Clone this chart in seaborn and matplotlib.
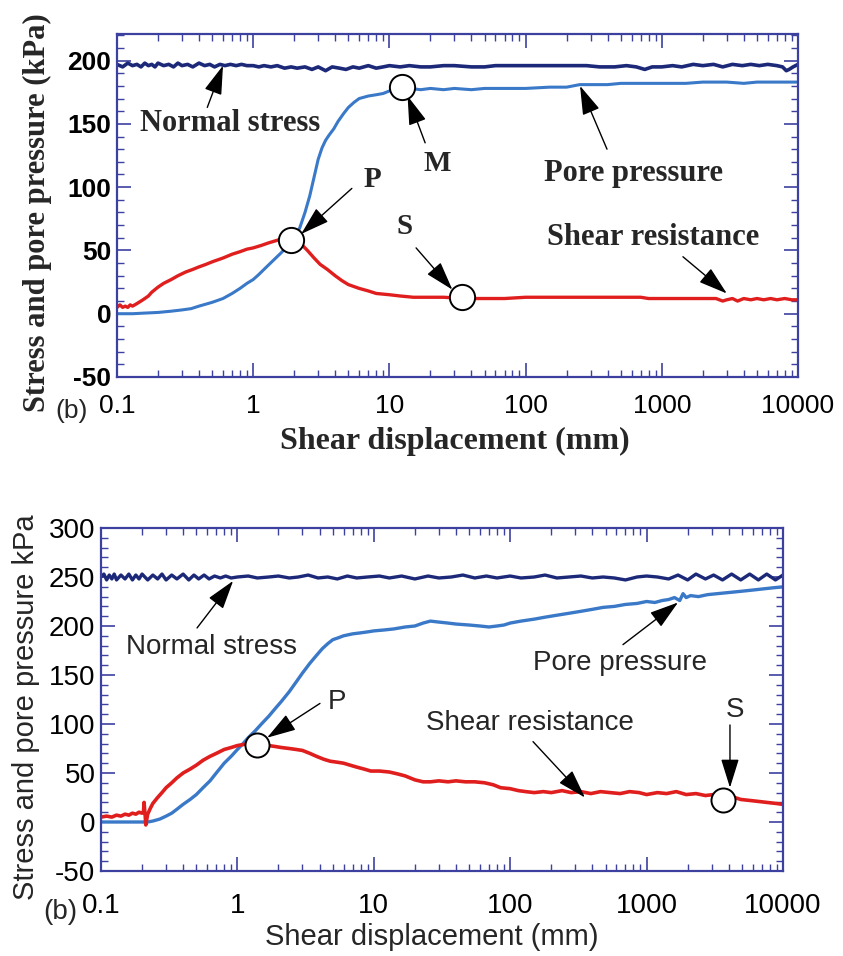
import numpy as np
import pandas as pd
import matplotlib
matplotlib.use("Agg")
import matplotlib.pyplot as plt
import seaborn as sns
from matplotlib.ticker import MultipleLocator, LogLocator, NullFormatter, FixedLocator, FixedFormatter

sns.set_theme(style="ticks")
plt.rcParams['font.family'] = ['Liberation Sans', 'DejaVu Sans']
plt.rcParams['axes.unicode_minus'] = False

# ---------------- data: top panel ----------------
x_ticks = [0.1, 1, 10, 100, 1000, 10000]
x_tick_labels = ["0.1", "1", "10", "100", "1000", "10000"]

ns_top_x = [0.10, 0.11, 0.12, 0.13, 0.14, 0.15, 0.16, 0.17, 0.18, 0.19,
            0.20, 0.22, 0.24, 0.26, 0.28, 0.30, 0.33, 0.36, 0.40, 0.44,
            0.48, 0.52, 0.57, 0.62, 0.68, 0.75, 0.82, 0.90, 1.0, 1.1,
            1.2, 1.35, 1.5, 1.7, 1.9, 2.1, 2.4, 2.7, 3.0, 3.4,
            3.8, 4.3, 4.8, 5.4, 6.0, 7.0, 8.0, 9.0, 10, 12,
            14, 17, 20, 25, 30, 40, 50, 60, 80, 100,
            130, 170, 220, 280, 350, 450, 550, 650, 750, 850,
            1000, 1200, 1400, 1700, 2000, 2400, 2800, 3300, 3900, 4500,
            5200, 6000, 7000, 7700, 8200, 8600, 9200, 10000]
ns_top_y = [197, 195, 198, 196, 197, 195, 198, 196, 197, 195,
            198, 196, 197, 195, 198, 196, 197, 195, 198, 196,
            197, 195, 197, 196, 197, 196, 197, 196, 196, 195,
            196, 195, 196, 194, 195, 194, 195, 193, 195, 192,
            195, 194, 193, 195, 194, 196, 194, 195, 196, 195,
            196, 195, 195, 196, 196, 195, 195, 196, 196, 196,
            196, 196, 196, 196, 195, 195, 196, 195, 193, 195,
            195, 196, 195, 197, 196, 197, 195, 197, 196, 197,
            196, 197, 196, 195, 192, 193, 195, 197]

pp_top_x = [0.10, 0.13, 0.16, 0.20, 0.25, 0.30, 0.35, 0.40, 0.50, 0.60,
            0.70, 0.80, 0.90, 1.0, 1.1, 1.2, 1.4, 1.6, 1.8, 2.0,
            2.2, 2.4, 2.6, 2.8, 3.0, 3.2, 3.4, 3.6, 3.9, 4.2,
            4.6, 5.0, 5.5, 6.0, 7.0, 8.0, 9.0, 10, 11, 12,
            14, 17, 20, 25, 30, 40, 50, 70, 100, 150,
            200, 250, 300, 400, 500, 700, 1000, 1500, 2000, 3000,
            4000, 5000, 7000, 10000]
pp_top_y = [0, 0, 0.5, 1, 2, 3, 4, 6, 9, 12,
            16, 20, 24, 27, 31, 35, 42, 48, 54, 59,
            68, 80, 93, 108, 122, 131, 137, 141, 146, 152,
            158, 163, 167, 170, 172, 173, 174, 176, 177, 178,
            178, 177, 178, 177, 178, 177, 178, 178, 178, 179,
            179, 181, 181, 181, 182, 182, 182, 182, 183, 183,
            182, 183, 183, 183]

sr_top_x = [0.10, 0.105, 0.11, 0.115, 0.12, 0.125, 0.13, 0.14, 0.15, 0.16,
            0.17, 0.18, 0.20, 0.22, 0.25, 0.28, 0.32, 0.36, 0.40, 0.45,
            0.50, 0.60, 0.70, 0.80, 0.90, 1.0, 1.15, 1.3, 1.5, 1.7,
            1.9, 2.1, 2.3, 2.5, 2.8, 3.1, 3.5, 4.0, 4.5, 5.0,
            6.0, 7.0, 8.0, 10, 12, 15, 20, 25, 35, 50,
            70, 100, 150, 200, 300, 500, 700, 800, 900, 1200,
            1600, 2000, 2500, 2800, 3000, 3300, 3600, 4000, 4500, 5000,
            5600, 6300, 7000, 8000, 9000, 10000]
sr_top_y = [5, 7, 5, 6, 5, 7, 6, 8, 10, 12,
            14, 17, 21, 24, 27, 30, 33, 35, 37, 39,
            41, 44, 47, 49, 51, 52, 54, 56, 58, 60,
            59, 57, 54, 50, 44, 39, 35, 30, 26, 23,
            20, 18, 16, 15, 14, 13, 13, 13, 12, 12,
            12, 13, 13, 13, 13, 13, 13, 12, 12, 12,
            12, 12, 12, 10, 11, 12, 10, 12, 11, 12,
            11, 12, 11, 12, 11, 11]

mk_top_x = [1.9, 12.4, 34.0]
mk_top_y = [58, 179, 13]

# ---------------- data: bottom panel ----------------
ns_bot_x = [0.10, 0.105, 0.11, 0.115, 0.12, 0.125, 0.13, 0.14, 0.15, 0.16,
            0.17, 0.18, 0.19, 0.20, 0.22, 0.24, 0.26, 0.28, 0.30, 0.33,
            0.36, 0.40, 0.44, 0.48, 0.52, 0.57, 0.62, 0.68, 0.75, 0.82,
            0.90, 1.0, 1.2, 1.4, 1.7, 2.0, 2.4, 2.8, 3.3, 3.9,
            4.6, 5.4, 6.4, 7.5, 9, 11, 13, 16, 20, 25,
            30, 37, 45, 55, 67, 80, 100, 120, 150, 180,
            220, 270, 330, 400, 480, 580, 700, 850, 1000, 1200,
            1450, 1700, 2000, 2300, 2700, 3100, 3600, 4200, 4900, 5700,
            6600, 7600, 8800, 10000]
ns_bot_y = [250, 253, 247, 252, 248, 253, 247, 252, 248, 253,
            247, 252, 248, 253, 247, 252, 248, 253, 247, 252,
            248, 253, 247, 252, 248, 252, 248, 251, 249, 251,
            249, 250, 251, 249, 250, 251, 249, 250, 252, 249,
            250, 248, 251, 249, 250, 251, 249, 251, 248, 251,
            249, 250, 252, 249, 251, 249, 251, 249, 250, 252,
            249, 250, 251, 249, 250, 249, 247, 250, 251, 250,
            248, 252, 247, 253, 248, 252, 247, 253, 247, 253,
            247, 253, 247, 252]

pp_bot_x = [0.10, 0.12, 0.14, 0.16, 0.18, 0.20, 0.22, 0.24, 0.27, 0.30,
            0.33, 0.36, 0.40, 0.45, 0.50, 0.56, 0.63, 0.70, 0.80, 0.90,
            1.0, 1.1, 1.2, 1.35, 1.5, 1.7, 1.9, 2.1, 2.4, 2.7,
            3.0, 3.4, 3.8, 4.2, 4.6, 5.0, 5.5, 6.0, 7.0, 8.0,
            9.0, 10, 12, 14, 17, 20, 23, 26, 30, 35,
            40, 50, 60, 70, 80, 90, 100, 120, 150, 180,
            220, 270, 330, 400, 480, 580, 700, 850, 1000, 1150,
            1300, 1450, 1600, 1750, 1850, 1950, 2100, 2400, 2800, 3300,
            3900, 4600, 5400, 6300, 7300, 8500, 10000]
pp_bot_y = [0, 0, 0, 0, 0, 0, 0, 1, 3, 6,
            9, 13, 18, 23, 28, 35, 42, 50, 60, 67,
            74, 80, 86, 93, 100, 108, 116, 123, 133, 143,
            152, 162, 170, 177, 182, 186, 188, 190, 192, 193,
            194, 195, 196, 197, 199, 200, 203, 205, 204, 203,
            202, 201, 200, 199, 200, 201, 203, 205, 207, 209,
            211, 213, 215, 217, 219, 220, 222, 223, 225, 224,
            226, 227, 229, 226, 233, 229, 231, 230, 232, 233,
            234, 235, 236, 237, 238, 239, 240]

sr_bot_x = [0.10, 0.11, 0.12, 0.13, 0.14, 0.15, 0.16, 0.17, 0.18, 0.19,
            0.20, 0.205, 0.207, 0.209, 0.211, 0.213, 0.216, 0.22, 0.23, 0.24,
            0.26, 0.28, 0.30, 0.33, 0.36, 0.40, 0.45, 0.50, 0.56, 0.63,
            0.70, 0.80, 0.90, 1.0, 1.1, 1.2, 1.35, 1.5, 1.7, 1.9,
            2.1, 2.4, 2.7, 3.0, 3.4, 3.8, 4.3, 4.8, 5.4, 6.0,
            6.7, 7.5, 8.5, 9.5, 11, 13, 15, 17, 20, 23,
            26, 30, 35, 40, 47, 55, 65, 75, 85, 100,
            115, 130, 150, 175, 200, 240, 280, 330, 390, 460,
            540, 640, 750, 880, 1000, 1200, 1400, 1650, 1950, 2300,
            2700, 3100, 3600, 4200, 4900, 5700, 6600, 7600, 8800, 10000]
sr_bot_y = [5, 6, 5, 7, 6, 8, 7, 9, 8, 10,
            9, 11, 20, 12, 6, -3, 2, 8, 14, 19,
            25, 30, 35, 40, 45, 50, 54, 58, 63, 67,
            70, 74, 76, 78, 79, 80, 80, 79, 78, 77,
            76, 75, 74, 73, 70, 67, 64, 62, 61, 60,
            58, 56, 54, 52, 52, 51, 49, 47, 43, 41,
            41, 42, 41, 42, 41, 41, 40, 38, 35, 34,
            32, 31, 30, 31, 30, 32, 30, 31, 29, 31,
            30, 29, 31, 30, 28, 30, 29, 31, 28, 29,
            27, 28, 25, 26, 23, 22, 21, 20, 19, 18]

mk_bot_x = [1.39, 3630]
mk_bot_y = [79, 22]

# ---------------- styling ----------------
C_NS = "#1c2878"
C_PP = "#3a78c8"
C_SR = "#e01e1e"
C_AX = "#3c41a0"

fig = plt.figure(figsize=(8.43, 9.56), dpi=100)
ax1 = fig.add_axes([0.13879, 0.60565, 0.80783, 0.35879])
ax2 = fig.add_axes([0.11981, 0.08891, 0.80902, 0.35879])


def style_axes(ax, ylim, tick_size, ytick_weight, xpad):
    ax.set_xscale("log")
    ax.set_xlim(0.1, 10000)
    ax.set_ylim(*ylim)
    ax.xaxis.set_major_locator(FixedLocator(x_ticks))
    ax.xaxis.set_major_formatter(FixedFormatter(x_tick_labels))
    ax.xaxis.set_minor_locator(LogLocator(base=10, subs=np.arange(2, 10) * 1.0, numticks=100))
    ax.xaxis.set_minor_formatter(NullFormatter())
    ax.yaxis.set_major_locator(MultipleLocator(50))
    ax.yaxis.set_minor_locator(MultipleLocator(10))
    ax.tick_params(which="both", direction="in", top=True, right=True,
                   color=C_AX, labelcolor="black")
    ax.tick_params(which="major", length=10, width=1.2)
    ax.tick_params(which="minor", length=5, width=1.0)
    ax.tick_params(axis="x", which="major", pad=xpad, labelsize=tick_size)
    ax.tick_params(axis="y", which="major", pad=4, labelsize=tick_size)
    for lab in ax.get_yticklabels():
        lab.set_fontweight(ytick_weight)
    for sp in ax.spines.values():
        sp.set_color(C_AX)
        sp.set_linewidth(1.6)
    ax.grid(False)


ap = dict(arrowstyle="-|>,head_length=0.9,head_width=0.28", mutation_scale=20,
          color="black", lw=1.0, shrinkA=0, shrinkB=0)


def arrow(ax, tail, head):
    ax.annotate("", xy=head, xytext=tail, arrowprops=ap)


# ---- top panel ----
sns.lineplot(x=ns_top_x, y=ns_top_y, ax=ax1, color=C_NS, lw=2.6, estimator=None, sort=False)
sns.lineplot(x=pp_top_x, y=pp_top_y, ax=ax1, color=C_PP, lw=2.2, estimator=None, sort=False)
sns.lineplot(x=sr_top_x, y=sr_top_y, ax=ax1, color=C_SR, lw=2.4, estimator=None, sort=False)
sns.scatterplot(x=mk_top_x, y=mk_top_y, ax=ax1, s=330, color="white",
                edgecolor="black", linewidth=1.4, zorder=5)
style_axes(ax1, (-50, 221), 19, "bold", 12)

serif_b = dict(family=["Liberation Serif", "DejaVu Serif"], fontweight="bold")
ax1.set_xlabel("Shear displacement (mm)", fontsize=23, **serif_b)
ax1.set_ylabel("Stress and pore pressure (kPa)", fontsize=22, **serif_b)
ax1.xaxis.set_label_coords(0.496, -0.145)
ax1.yaxis.set_label_coords(-0.095, 0.478)
ax1.text(-0.066, -0.10, "(b)", transform=ax1.transAxes, fontsize=19,
         ha="center", va="center")

ax1.text(0.68, 150, "Normal stress", fontsize=22, ha="center", va="center", **serif_b)
arrow(ax1, (0.46, 163), (0.60, 196))
ax1.text(7.45, 106, "P", fontsize=21, ha="center", va="center", **serif_b)
arrow(ax1, (5.3, 99), (2.25, 63))
ax1.text(22.4, 119, "M", fontsize=21, ha="center", va="center", **serif_b)
arrow(ax1, (18.3, 135), (13.6, 172))
ax1.text(13.0, 69, "S", fontsize=21, ha="center", va="center", **serif_b)
arrow(ax1, (15.7, 52), (29.0, 19))
ax1.text(615, 111, "Pore pressure", fontsize=22, ha="center", va="center", **serif_b)
arrow(ax1, (396, 130), (251, 180))
ax1.text(862, 60, "Shear resistance", fontsize=22, ha="center", va="center", **serif_b)
arrow(ax1, (1430, 45), (3000, 16))

# ---- bottom panel ----
sns.lineplot(x=ns_bot_x, y=ns_bot_y, ax=ax2, color=C_NS, lw=2.4, estimator=None, sort=False)
sns.lineplot(x=pp_bot_x, y=pp_bot_y, ax=ax2, color=C_PP, lw=2.4, estimator=None, sort=False)
sns.lineplot(x=sr_bot_x, y=sr_bot_y, ax=ax2, color=C_SR, lw=2.6, estimator=None, sort=False)
sns.scatterplot(x=mk_bot_x, y=mk_bot_y, ax=ax2, s=300, color="white",
                edgecolor="black", linewidth=1.4, zorder=5)
style_axes(ax2, (-50, 300), 20, "normal", 16)

ax2.set_xlabel("Shear displacement (mm)", fontsize=21)
ax2.set_ylabel("Stress and pore pressure kPa", fontsize=21)
ax2.xaxis.set_label_coords(0.485, -0.152)
ax2.yaxis.set_label_coords(-0.089, 0.478)
ax2.text(-0.06, -0.12, "(b)", transform=ax2.transAxes, fontsize=20,
         ha="center", va="center")

ax2.text(0.65, 179, "Normal stress", fontsize=20, ha="center", va="center")
arrow(ax2, (0.506, 198), (0.93, 246))
ax2.text(5.37, 122, "P", fontsize=20, ha="center", va="center")
arrow(ax2, (4.03, 121), (1.65, 86))
ax2.text(140, 101, "Shear resistance", fontsize=20, ha="center", va="center")
arrow(ax2, (147, 82), (353, 25))
ax2.text(638, 162, "Pore pressure", fontsize=20, ha="center", va="center")
arrow(ax2, (671, 181), (1700, 224))
ax2.text(4446, 114, "S", fontsize=20, ha="center", va="center")
arrow(ax2, (4085, 99), (4085, 35))

fig.savefig("out.png", dpi=100)
